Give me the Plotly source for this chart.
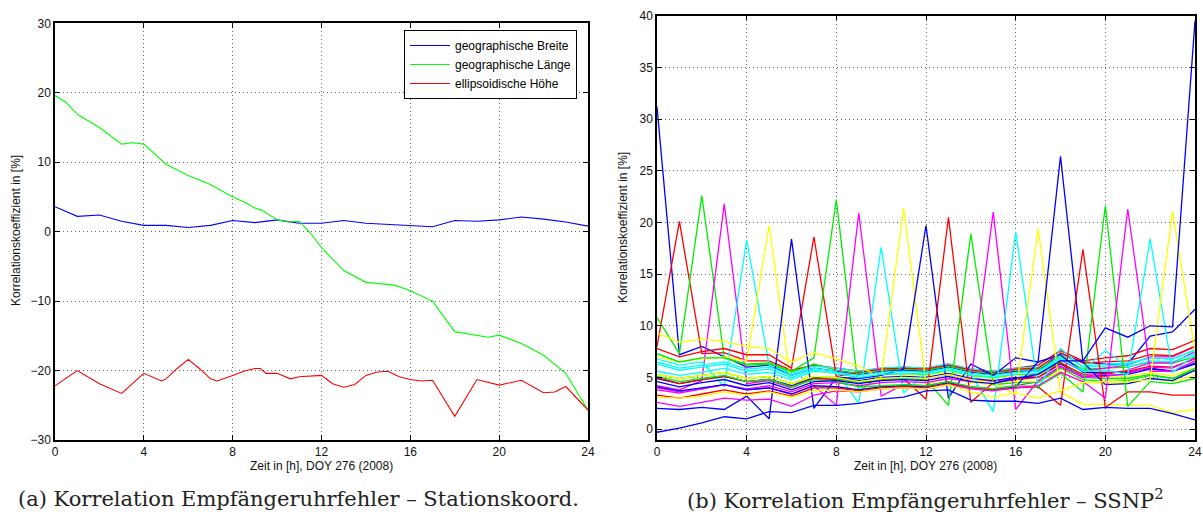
import plotly.graph_objects as go

# ---------------- left panel: station coordinates ----------------
breite_h = list(range(25))
breite_val = [3.6, 2.2, 2.4, 1.5, 0.9, 0.9, 0.6, 0.9, 1.6, 1.3, 1.7, 1.2, 1.2,
              1.6, 1.2, 1.0, 0.9, 0.7, 1.6, 1.5, 1.7, 2.1, 1.8, 1.4, 0.8]

laenge_h = [0, 0.5, 1, 2, 3, 3.5, 4, 5, 6, 6.5, 7, 8, 8.5, 9, 9.3, 10, 10.5, 11,
            11.5, 12, 12.5, 13, 14, 15, 15.3, 16, 17, 18, 19, 19.5, 20, 21, 22, 23, 24]
laenge_val = [19.6, 18.6, 16.9, 15.0, 12.6, 12.8, 12.6, 9.7, 8.1, 7.5, 6.8, 5.0, 4.3,
              3.4, 3.1, 1.7, 1.4, 1.5, -0.2, -2.3, -4.0, -5.6, -7.3, -7.6, -7.7, -8.5,
              -10.0, -14.4, -14.9, -15.2, -14.9, -16.1, -17.8, -20.4, -25.7]

hoehe_h = [0, 1, 2, 3, 4, 4.8, 5, 5.5, 6, 6.5, 7, 7.3, 8, 8.5, 9, 9.25, 9.5, 10,
           10.6, 11, 12, 12.5, 13, 13.5, 14, 14.5, 15, 15.5, 16, 16.5, 17, 18, 19,
           20, 21, 22, 22.5, 23, 24]
hoehe_val = [-22.2, -20.0, -21.9, -23.3, -20.4, -21.5, -21.2, -19.7, -18.4, -19.7,
             -21.2, -21.5, -20.7, -20.1, -19.7, -19.7, -20.4, -20.4, -21.2, -20.9,
             -20.7, -21.9, -22.4, -22.0, -20.7, -20.2, -20.1, -20.9, -21.3, -21.5,
             -21.4, -26.6, -21.3, -22.1, -21.4, -23.2, -23.1, -22.3, -25.7]

# ---------------- right panel: SSNP per satellite (hourly) ----------------
hours = list(range(25))
ssnp_00 = [31.2, 7.2, 8.0, 7.0, 6.0, 6.2, 5.2, 5.9, 5.6, 5.3, 5.6, 5.7, 5.6, 6.0, 5.5, 5.3, 5.6, 5.6, 7.3, 6.5, 6.3, 6.3, 9.0, 9.4, 11.6]
ssnp_01 = [8.0, 20.1, 7.3, 7.4, 6.6, 6.6, 5.7, 6.2, 5.9, 5.6, 5.9, 6.0, 5.9, 6.3, 5.8, 5.6, 5.9, 6.2, 7.6, 6.6, 6.9, 7.1, 7.8, 7.7, 8.6]
ssnp_02 = [10.8, 7.3, 22.6, 6.9, 6.2, 6.3, 5.5, 6.3, 5.7, 5.4, 5.7, 5.8, 5.7, 6.1, 5.6, 5.4, 5.7, 5.8, 7.0, 5.8, 5.9, 6.0, 6.5, 6.4, 7.0]
ssnp_03 = [4.2, 3.8, 4.7, 21.8, 4.4, 4.7, 4.0, 4.9, 4.9, 4.6, 4.9, 5.0, 4.9, 5.3, 4.8, 4.6, 4.9, 5.2, 6.7, 5.6, 5.9, 6.2, 7.0, 7.0, 8.0]
ssnp_04 = [6.8, 6.2, 6.5, 4.1, 18.3, 6.2, 5.4, 6.1, 5.9, 5.6, 5.9, 6.0, 5.9, 6.3, 5.8, 5.6, 5.9, 6.0, 7.3, 6.1, 6.3, 6.4, 6.9, 6.8, 7.7]
ssnp_05 = [7.0, 6.5, 6.8, 7.0, 6.6, 19.7, 4.0, 5.6, 5.4, 5.0, 5.3, 5.3, 5.2, 5.6, 5.1, 4.9, 5.2, 5.2, 6.5, 5.0, 5.0, 5.1, 5.5, 5.2, 5.9]
ssnp_06 = [2.0, 1.9, 2.1, 1.9, 3.2, 1.0, 18.4, 2.0, 5.0, 4.7, 5.0, 5.1, 5.0, 5.4, 4.9, 4.7, 5.0, 5.0, 6.3, 5.1, 5.2, 5.3, 5.8, 5.6, 6.3]
ssnp_07 = [7.8, 7.0, 7.5, 7.8, 7.2, 7.2, 5.9, 18.6, 5.1, 5.5, 5.8, 5.9, 5.8, 6.2, 5.7, 5.5, 5.8, 5.9, 7.4, 6.4, 6.5, 6.6, 7.2, 7.1, 8.0]
ssnp_08 = [7.3, 6.5, 6.9, 6.9, 6.3, 6.4, 5.6, 6.9, 22.2, 3.6, 5.3, 5.4, 5.3, 5.7, 5.2, 5.0, 5.3, 5.3, 6.5, 5.0, 4.9, 4.9, 5.3, 4.9, 5.7]
ssnp_09 = [4.0, 3.6, 3.9, 4.3, 3.8, 4.0, 3.4, 4.2, 2.3, 20.9, 3.2, 4.3, 4.2, 4.6, 4.1, 3.9, 4.2, 4.6, 6.0, 5.1, 5.3, 5.7, 6.4, 6.4, 7.5]
ssnp_10 = [6.5, 5.9, 6.2, 6.5, 5.8, 6.0, 5.2, 5.9, 5.6, 2.5, 17.6, 3.5, 5.5, 5.9, 5.4, 5.2, 5.5, 5.6, 6.9, 5.7, 7.6, 6.0, 6.6, 6.5, 7.3]
ssnp_11 = [9.3, 8.4, 8.7, 8.5, 8.0, 7.8, 6.5, 7.4, 6.8, 6.1, 5.0, 21.4, 4.4, 4.9, 4.5, 4.3, 4.6, 4.6, 5.6, 4.5, 4.5, 4.5, 4.9, 4.6, 5.2]
ssnp_12 = [4.9, 4.4, 4.8, 5.1, 4.6, 4.8, 4.2, 5.0, 5.0, 4.9, 5.2, 5.8, 19.7, 3.0, 6.3, 5.2, 6.9, 6.5, 7.2, 5.5, 5.5, 5.5, 5.9, 5.6, 6.4]
ssnp_13 = [5.0, 4.4, 4.8, 5.1, 4.6, 4.8, 4.1, 4.9, 4.8, 4.5, 4.8, 4.9, 2.9, 20.5, 2.6, 4.5, 4.8, 5.0, 6.4, 5.3, 5.4, 5.6, 6.1, 6.0, 6.8]
ssnp_14 = [5.3, 4.9, 5.2, 5.5, 4.9, 5.1, 4.4, 5.1, 4.9, 4.5, 4.8, 4.9, 4.8, 2.3, 18.9, 4.3, 4.5, 4.5, 5.9, 4.8, 4.6, 4.7, 5.2, 4.9, 5.9]
ssnp_15 = [3.8, 3.5, 3.9, 4.3, 3.9, 4.2, 3.6, 4.4, 4.5, 4.2, 4.5, 4.6, 4.5, 4.9, 4.6, 21.0, 1.9, 4.7, 6.1, 5.0, 5.1, 5.4, 6.0, 5.9, 6.9]
ssnp_16 = [5.6, 5.2, 5.5, 5.9, 5.3, 5.5, 4.8, 5.6, 5.5, 5.2, 5.5, 5.6, 5.5, 5.9, 5.4, 1.7, 19.1, 3.9, 7.8, 6.0, 6.1, 6.3, 6.9, 6.8, 7.6]
ssnp_17 = [5.3, 4.9, 5.2, 5.5, 4.9, 5.1, 4.4, 5.1, 5.0, 4.6, 4.9, 5.0, 4.9, 5.3, 4.8, 4.5, 3.4, 19.4, 3.6, 2.4, 2.4, 2.3, 2.3, 1.6, 1.9]
ssnp_18 = [4.1, 3.7, 4.0, 4.3, 3.8, 4.0, 3.4, 4.2, 4.1, 3.8, 4.1, 4.2, 4.1, 4.5, 4.0, 3.8, 4.1, 6.5, 26.4, 6.5, 4.3, 4.4, 4.9, 4.7, 5.7]
ssnp_19 = [3.3, 3.0, 3.4, 3.8, 3.4, 3.7, 3.2, 4.0, 4.0, 3.7, 4.0, 4.1, 4.0, 4.4, 4.0, 3.8, 4.0, 4.1, 2.3, 17.4, 2.1, 3.6, 3.6, 3.3, 3.3]
ssnp_20 = [5.1, 4.6, 4.9, 5.2, 4.6, 4.8, 4.1, 4.8, 4.6, 4.1, 4.2, 4.3, 4.2, 4.6, 4.1, 3.9, 4.2, 4.1, 5.4, 3.6, 21.6, 2.2, 4.6, 4.4, 4.9]
ssnp_21 = [2.6, 2.2, 2.6, 3.0, 2.8, 2.9, 2.2, 3.3, 3.7, 3.6, 3.9, 4.0, 3.9, 4.3, 3.9, 3.7, 4.0, 4.2, 5.5, 4.6, 3.0, 21.3, 5.6, 5.6, 6.6]
ssnp_22 = [6.3, 5.7, 6.0, 6.3, 5.6, 5.8, 5.0, 5.7, 5.4, 5.0, 5.3, 5.4, 5.3, 5.7, 5.2, 5.0, 5.3, 5.4, 6.8, 5.6, 5.7, 5.3, 18.4, 5.5, 7.2]
ssnp_23 = [3.1, 3.0, 3.2, 3.6, 3.3, 3.6, 3.1, 3.7, 3.8, 3.6, 3.9, 4.0, 3.9, 4.3, 3.6, 3.1, 3.5, 3.0, 3.7, 4.5, 4.6, 4.6, 4.8, 21.1, 7.5]
ssnp_24 = [4.6, 4.1, 4.5, 4.8, 4.2, 4.5, 3.8, 4.6, 4.7, 4.4, 4.7, 4.8, 4.7, 5.1, 4.6, 4.4, 4.9, 5.3, 6.6, 6.6, 9.8, 8.9, 10.0, 9.9, 39.5]
ssnp_25 = [-0.3, 0.1, 0.6, 1.2, 1.0, 1.7, 1.6, 2.3, 2.3, 2.5, 2.9, 3.1, 3.7, 3.8, 2.8, 2.7, 2.7, 2.5, 3.0, 1.9, 2.1, 2.0, 2.0, 1.5, 0.9]

ssnp_series = [ssnp_00, ssnp_01, ssnp_02, ssnp_03, ssnp_04, ssnp_05, ssnp_06,
               ssnp_07, ssnp_08, ssnp_09, ssnp_10, ssnp_11, ssnp_12, ssnp_13,
               ssnp_14, ssnp_15, ssnp_16, ssnp_17, ssnp_18, ssnp_19, ssnp_20,
               ssnp_21, ssnp_22, ssnp_23, ssnp_24, ssnp_25]

# colour cycle used for the satellites
cycle = ["#0000ff", "#ff0000", "#00ee00", "#ff00ff", "#00ffff", "#ffff00"]

xticks = [0, 4, 8, 12, 16, 20, 24]

fig = go.Figure()

fig.add_trace(go.Scatter(x=breite_h, y=breite_val, mode="lines", name="geographische Breite",
                         line=dict(color="#0000ff", width=1.1), xaxis="x", yaxis="y"))
fig.add_trace(go.Scatter(x=laenge_h, y=laenge_val, mode="lines", name="geographische Länge",
                         line=dict(color="#00ff00", width=1.1), xaxis="x", yaxis="y"))
fig.add_trace(go.Scatter(x=hoehe_h, y=hoehe_val, mode="lines", name="ellipsoidische Höhe",
                         line=dict(color="#ff0000", width=1.1), xaxis="x", yaxis="y"))

for i, vals in enumerate(ssnp_series):
    col = "#0000ff" if i == 25 else cycle[i % 6]
    fig.add_trace(go.Scatter(x=hours, y=vals, mode="lines", showlegend=False,
                             line=dict(color=col, width=1.3), xaxis="x2", yaxis="y2"))

tickfont = dict(family="Liberation Sans, Arial, sans-serif", size=12, color="#111")
axis_style = dict(showline=True, linecolor="black", linewidth=1.5, mirror="allticks",
                  ticks="inside", ticklen=5, tickcolor="black", tickwidth=1,
                  showgrid=True, gridcolor="rgba(0,0,0,0.6)", griddash="1px,3px",
                  gridwidth=1, zeroline=False, tickfont=tickfont, automargin=False)

W, H = 1203, 521
L1, R1 = 55, 588
L2, R2 = 657, 1195
top1, top2, bot = 23.3, 15.7, 440

fig.update_layout(
    width=W, height=H, margin=dict(l=0, r=0, t=0, b=0, autoexpand=False),
    paper_bgcolor="white", plot_bgcolor="white",
    xaxis=dict(domain=[L1 / W, R1 / W], range=[0, 24], tickvals=xticks, anchor="y", **axis_style),
    yaxis=dict(domain=[1 - bot / H, 1 - top1 / H], range=[-30, 30], dtick=10, anchor="x", **axis_style),
    xaxis2=dict(domain=[L2 / W, R2 / W], range=[0, 24], tickvals=xticks, anchor="y2", **axis_style),
    yaxis2=dict(domain=[1 - bot / H, 1 - top2 / H], range=[-1.05, 40], dtick=5, anchor="x2", **axis_style),
    legend=dict(x=577 / W, y=1 - 30 / H, xanchor="right", yanchor="top",
                bgcolor="white", bordercolor="black", borderwidth=1,
                font=dict(family="Liberation Sans, Arial, sans-serif", size=12, color="black"),
                tracegroupgap=0, itemwidth=40),
)

title_font = dict(family="Liberation Sans, Arial, sans-serif", size=12, color="#111")
caption_font = dict(family="DejaVu Serif, Liberation Serif, serif", size=21, color="#222")


def label(text, x, y, font, angle=0):
    return dict(text=text, x=x / W, y=1 - y / H, xref="paper", yref="paper",
                xanchor="center", yanchor="middle", showarrow=False,
                textangle=angle, font=font)


annotations = [
    label("Zeit in [h], DOY 276 (2008)", (L1 + R1) / 2, 466, title_font),
    label("Zeit in [h], DOY 276 (2008)", (L2 + R2) / 2, 466, title_font),
    label("Korrelationskoeffizient in [%]", 16, 231, title_font, -90),
    label("Korrelationskoeffizient in [%]", 623, 228, title_font, -90),
    label("(a) Korrelation Empfängeruhrfehler – Stationskoord.", 298, 499, caption_font),
    label("(b) Korrelation Empfängeruhrfehler – SSNP<sup>2</sup>", 926, 499, caption_font),
]
fig.update_layout(annotations=annotations)

fig.write_html("out.html")
